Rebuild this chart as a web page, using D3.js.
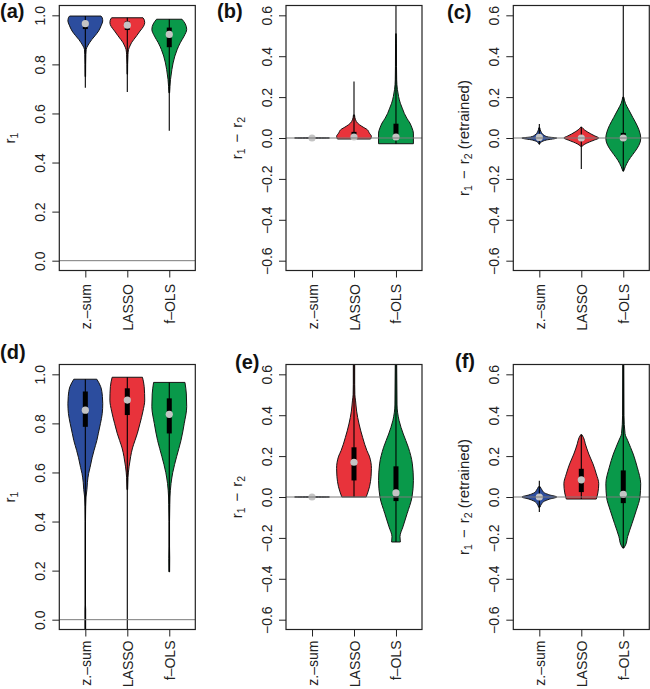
<!DOCTYPE html>
<html><head><meta charset="utf-8">
<script src="https://cdn.jsdelivr.net/npm/d3@7"></script>
<style>body{margin:0;background:#fff}svg{display:block;font-family:"Liberation Sans",Arial,sans-serif}</style>
</head><body>
<svg id="chart" width="650" height="689"></svg>
<script>
// ---------- data ----------
const methods = ["z.–sum", "LASSO", "f–OLS"];
const methodColors = ["#2c4d9e", "#e8333b", "#09994a"];
const ticksR1 = [0, 0.2, 0.4, 0.6, 0.8, 1.0];
const ticksDiff = [-0.6, -0.4, -0.2, 0, 0.2, 0.4, 0.6];
const panelLabels = ["(a)", "(b)", "(c)", "(d)", "(e)", "(f)"];

// Panel (a): r1, simulation set 1
const aValues = [
  [0.997,0.99,0.977,0.96,0.936,0.918,0.902,0.888,0.875,0.861,0.84,0.80,0.75],
  [0.990,0.98,0.97,0.955,0.936,0.918,0.902,0.888,0.875,0.86,0.84,0.80,0.76],
  [0.984,0.965,0.943,0.915,0.888,0.86,0.834,0.806,0.779,0.738,0.71,0.684]];
const aDensity = [
  [0.9,0.97,1.0,0.92,0.76,0.57,0.38,0.24,0.13,0.05,0.03,0.02,0.015],
  [0.9,0.98,1.0,0.93,0.73,0.55,0.38,0.24,0.15,0.07,0.04,0.02,0.015],
  [0.73,0.92,1.0,0.85,0.63,0.45,0.32,0.22,0.15,0.07,0.04,0.02]];
const aMedian = [0.966, 0.960, 0.922];
const aQ1 = [0.944, 0.940, 0.870];
const aQ3 = [0.975, 0.975, 0.950];
const aLow = [0.705, 0.687, 0.530];
const aHigh = [0.997, 0.990, 0.984];

// Panel (b): r1 - r2
const bValues = [
  [0.002, 0, -0.002],
  [0.113,0.1,0.089,0.073,0.057,0.04,0.024,0.008,-0.005],
  [0.51,0.46,0.35,0.284,0.238,0.203,0.17,0.146,0.12,0.097,0.073,0.049,0.024,0,-0.028]];
const bDensity = [
  [0.02, 1, 0.02],
  [0.03,0.05,0.09,0.2,0.45,0.77,0.88,1.0,0.95],
  [0.015,0.025,0.03,0.04,0.08,0.15,0.25,0.36,0.48,0.62,0.8,0.92,1.0,1.0,1.0]];
const bMedian = [0, 0.005, 0.005];
const bQ1 = [0, 0.0, 0.0];
const bQ3 = [0, 0.03, 0.07];
const bLow = [0, -0.005, -0.028];
const bHigh = [0, 0.276, 0.66];

// Panel (c): r1 - r2 (retrained)
const cValues = [
  [0.05,0.03,0.015,0.005,0,-0.01,-0.02,-0.03],
  [0.052,0.04,0.03,0.02,0.01,0,-0.01,-0.02,-0.03,-0.04],
  [0.2,0.17,0.14,0.1,0.06,0.02,0,-0.02,-0.05,-0.08,-0.11,-0.14,-0.162]];
const cDensity = [
  [0.03,0.1,0.25,0.5,1.0,0.4,0.1,0.02],
  [0.04,0.18,0.35,0.55,0.78,1,0.75,0.45,0.2,0.05],
  [0.03,0.12,0.3,0.55,0.8,0.97,1,0.97,0.8,0.55,0.3,0.12,0.02]];
const cMedian = [0.003, 0, 0];
const cQ1 = [-0.005, -0.008, -0.015];
const cQ3 = [0.008, 0.01, 0.025];
const cLow = [-0.03, -0.151, -0.162];
const cHigh = [0.068, 0.055, 0.66];

// Panel (d): r1, simulation set 2
const dValues = [
  [0.98,0.95,0.91,0.88,0.84,0.8,0.76,0.73,0.69,0.66,0.62,0.596,0.56,0.53,0.5,0.46,0.4,0.06,0.04,-0.05],
  [0.988,0.95,0.895,0.85,0.8,0.76,0.73,0.7,0.664,0.623,0.58,0.53],
  [0.967,0.92,0.868,0.8,0.73,0.664,0.6,0.555,0.5,0.47,0.4,0.3,0.25,0.195]];
const dDensity = [
  [0.66,0.88,0.98,1.0,0.97,0.87,0.75,0.66,0.5,0.39,0.27,0.19,0.12,0.09,0.04,0.02,0.01,0.01,0.02,0.02],
  [0.87,0.97,1,0.9,0.73,0.58,0.44,0.3,0.19,0.1,0.04,0.02],
  [0.9,0.98,1,0.86,0.67,0.42,0.2,0.1,0.04,0.03,0.015,0.015,0.025,0.02]];
const dMedian = [0.854, 0.895, 0.837];
const dQ1 = [0.786, 0.834, 0.759];
const dQ3 = [0.930, 0.943, 0.902];
const dLow = [-0.06, -0.06, 0.195];
const dHigh = [0.98, 0.988, 0.967];

// Panel (e): r1 - r2
const eValues = [
  [0.002, 0, -0.002],
  [0.66,0.55,0.5,0.47,0.42,0.357,0.29,0.227,0.2,0.14,0.1,0.05,0.0],
  [0.66,0.45,0.373,0.308,0.243,0.162,0.081,0,-0.081,-0.146,-0.194,-0.22]];
const eDensity = [
  [0.02, 1, 0.02],
  [0.04,0.04,0.05,0.09,0.15,0.29,0.5,0.74,0.88,1.0,0.98,0.89,0.7],
  [0.04,0.06,0.18,0.42,0.71,0.94,1,0.92,0.64,0.4,0.23,0.25]];
const eMedian = [0, 0.17, 0.02];
const eQ1 = [0, 0.081, -0.02];
const eQ3 = [0, 0.243, 0.15];
const eLow = [0, 0, -0.22];
const eHigh = [0, 0.66, 0.66];

// Panel (f): r1 - r2 (retrained)
const fValues = [
  [0.05,0.035,0.02,0.01,0,-0.01,-0.02,-0.035,-0.05],
  [0.305,0.29,0.26,0.21,0.162,0.113,0.065,0.02,-0.01],
  [0.66,0.4,0.31,0.275,0.21,0.146,0.065,0,-0.065,-0.13,-0.194,-0.235,-0.25]];
const fDensity = [
  [0.05,0.15,0.3,0.6,1,0.6,0.3,0.12,0.04],
  [0.03,0.13,0.23,0.43,0.67,0.86,1,0.95,0.86],
  [0.03,0.04,0.1,0.26,0.57,0.8,1,0.96,0.75,0.5,0.25,0.13,0.03]];
const fMedian = [0, 0.084, 0.013];
const fQ1 = [-0.005, 0.024, -0.03];
const fQ3 = [0.005, 0.138, 0.13];
const fLow = [-0.073, -0.01, -0.25];
const fHigh = [0.08, 0.305, 0.66];

// ---------- layout ----------
const svg = d3.select("#chart");
const colLeft = [59.3, 286, 513.3];
const rowTop = [5.5, 364.5];
const rowLabelGap = [13.5, 11];
const pw = 136, ph = 265;

const panels = [
  {label:panelLabels[0], col:0,row:0, kind:"r1", vals:aValues, dens:aDensity, med:aMedian, q1:aQ1, q3:aQ3, lo:aLow, hi:aHigh, lx:0, ly:18},
  {label:panelLabels[1], col:1,row:0, kind:"diff", vals:bValues, dens:bDensity, med:bMedian, q1:bQ1, q3:bQ3, lo:bLow, hi:bHigh, lx:217, ly:18},
  {label:panelLabels[2], col:2,row:0, kind:"ret", vals:cValues, dens:cDensity, med:cMedian, q1:cQ1, q3:cQ3, lo:cLow, hi:cHigh, lx:447, ly:19},
  {label:panelLabels[3], col:0,row:1, kind:"r1", vals:dValues, dens:dDensity, med:dMedian, q1:dQ1, q3:dQ3, lo:dLow, hi:dHigh, lx:0, ly:359},
  {label:panelLabels[4], col:1,row:1, kind:"diff", vals:eValues, dens:eDensity, med:eMedian, q1:eQ1, q3:eQ3, lo:eLow, hi:eHigh, lx:235, ly:369},
  {label:panelLabels[5], col:2,row:1, kind:"ret", vals:fValues, dens:fDensity, med:fMedian, q1:fQ1, q3:fQ3, lo:fLow, hi:fHigh, lx:455, ly:368}
];

const fmt = d => d3.format(".1f")(d).replace("-", "−");
const FONT = "'Liberation Sans', Arial, sans-serif";

panels.forEach((p, pi) => {
  const L = colLeft[p.col], T = rowTop[p.row];
  const x = d3.scaleLinear().domain([0.38, 3.62]).range([L, L + pw]);
  const y = d3.scaleLinear().domain(p.kind === "r1" ? [-0.04, 1.04] : [-0.648, 0.648]).range([T + ph, T]);
  const hw = (x(1) - x(0)) * 0.415;
  const g = svg.append("g");

  const clipId = "clip" + pi;
  svg.append("clipPath").attr("id", clipId).append("rect")
    .attr("x", L).attr("y", T).attr("width", pw).attr("height", ph);
  const pg = g.append("g").attr("clip-path", `url(#${clipId})`);

  methods.forEach((m, i) => {
    const cx = x(i + 1);
    const pts = p.vals[i].map((v, k) => ({v, w: p.dens[i][k]}));
    const area = d3.area()
      .y(d => y(d.v))
      .x0(d => cx - d.w * hw)
      .x1(d => cx + d.w * hw)
      .curve(d3.curveMonotoneY);
    pg.append("path").attr("d", area(pts))
      .attr("fill", methodColors[i]).attr("stroke", "#151515").attr("stroke-width", 1);
    pg.append("line").attr("x1", cx).attr("x2", cx)
      .attr("y1", y(p.lo[i])).attr("y2", y(p.hi[i]))
      .attr("stroke", "#000").attr("stroke-width", 1.1);
    if (p.q3[i] > p.q1[i]) {
      pg.append("rect").attr("x", cx - 2.5).attr("width", 5)
        .attr("y", y(p.q3[i])).attr("height", y(p.q1[i]) - y(p.q3[i]))
        .attr("fill", "#000");
    }
    pg.append("circle").attr("cx", cx).attr("cy", y(p.med[i])).attr("r", 3.6)
      .attr("fill", "#c4c4c4");
  });

  // zero reference line
  pg.append("line").attr("x1", L).attr("x2", L + pw)
    .attr("y1", y(0)).attr("y2", y(0))
    .attr("stroke", "#7a7a7a").attr("stroke-width", 1);

  // frame
  g.append("rect").attr("x", L).attr("y", T).attr("width", pw).attr("height", ph)
    .attr("fill", "none").attr("stroke", "#222").attr("stroke-width", 1.2);

  // y axis
  const ya = g.append("g").attr("transform", `translate(${L},0)`)
    .call(d3.axisLeft(y).tickValues(p.kind === "r1" ? ticksR1 : ticksDiff).tickSize(7).tickFormat(fmt));
  ya.select(".domain").remove();
  ya.selectAll(".tick line").attr("stroke", "#222");
  ya.selectAll(".tick text")
    .attr("transform", "rotate(-90)").attr("x", 0).attr("y", -14).attr("dy", 0)
    .attr("text-anchor", "middle").attr("fill", "#222")
    .style("font-size", "14px").style("font-family", FONT);

  // x axis
  const xa = g.append("g").attr("transform", `translate(0,${T + ph})`)
    .call(d3.axisBottom(x).tickValues([1, 2, 3]).tickSize(7).tickFormat(d => methods[d - 1]));
  xa.select(".domain").remove();
  xa.selectAll(".tick line").attr("stroke", "#222");
  xa.selectAll(".tick text")
    .attr("transform", "rotate(-90)").attr("x", -rowLabelGap[p.row]).attr("y", 5).attr("dy", 0)
    .attr("text-anchor", "end").attr("fill", "#222")
    .style("font-size", "14px").style("font-family", FONT);

  // y title
  const tx = L - 44, ty = T + ph / 2;
  const t = g.append("text").attr("transform", `translate(${tx},${ty}) rotate(-90)`)
    .attr("text-anchor", "middle").attr("fill", "#222").style("font-size", "15px");
  t.append("tspan").text("r");
  t.append("tspan").attr("baseline-shift", "-25%").style("font-size", "10.5px").text("1");
  if (p.kind !== "r1") {
    t.append("tspan").attr("dx", 6).text("−");
    t.append("tspan").attr("dx", 6).text("r");
    t.append("tspan").attr("baseline-shift", "-25%").style("font-size", "10.5px").text("2");
    if (p.kind === "ret") t.append("tspan").text(" (retrained)");
  }

  // panel label
  g.append("text").attr("x", p.lx).attr("y", p.ly).text(p.label)
    .style("font-size", "20px").style("font-weight", "bold").attr("fill", "#111");
});
</script>
</body></html>
